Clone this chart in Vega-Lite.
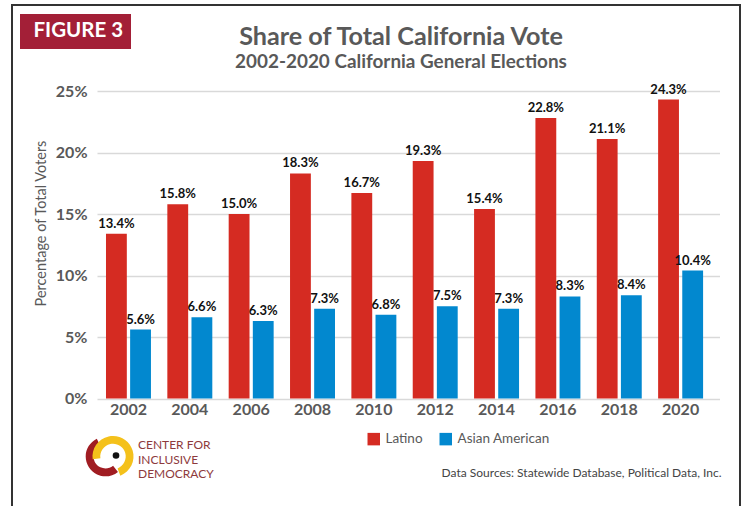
{
  "$schema": "https://vega.github.io/schema/vega-lite/v6.json",
  "width": 728,
  "height": 510,
  "autosize": {"type": "none"},
  "padding": {"left": 12, "top": 5, "right": 6, "bottom": 0},
  "background": "white",
  "config": {
    "font": "Lato",
    "view": {"stroke": "#333333", "strokeWidth": 2},
    "axis": {"labelFont": "Lato", "titleFont": "Lato"},
    "legend": {"labelFont": "Lato", "titleFont": "Lato"}
  },
  "title": {
    "text": "Share of Total California Vote",
    "subtitle": "2002-2020 California General Elections",
    "anchor": "middle",
    "frame": "group",
    "offset": -67,
    "dx": 25,
    "font": "Lato",
    "fontSize": 25.2,
    "fontWeight": "bold",
    "color": "#595959",
    "subtitleFont": "Lato",
    "subtitleFontSize": 18.9,
    "subtitleFontWeight": "bold",
    "subtitleColor": "#595959",
    "subtitlePadding": 3
  },
  "data": {
    "values": [
      {"year": "2002", "group": "Latino", "share": 0.134},
      {"year": "2002", "group": "Asian American", "share": 0.056},
      {"year": "2004", "group": "Latino", "share": 0.158},
      {"year": "2004", "group": "Asian American", "share": 0.066},
      {"year": "2006", "group": "Latino", "share": 0.150},
      {"year": "2006", "group": "Asian American", "share": 0.063},
      {"year": "2008", "group": "Latino", "share": 0.183},
      {"year": "2008", "group": "Asian American", "share": 0.073},
      {"year": "2010", "group": "Latino", "share": 0.167},
      {"year": "2010", "group": "Asian American", "share": 0.068},
      {"year": "2012", "group": "Latino", "share": 0.193},
      {"year": "2012", "group": "Asian American", "share": 0.075},
      {"year": "2014", "group": "Latino", "share": 0.154},
      {"year": "2014", "group": "Asian American", "share": 0.073},
      {"year": "2016", "group": "Latino", "share": 0.228},
      {"year": "2016", "group": "Asian American", "share": 0.083},
      {"year": "2018", "group": "Latino", "share": 0.211},
      {"year": "2018", "group": "Asian American", "share": 0.084},
      {"year": "2020", "group": "Latino", "share": 0.243},
      {"year": "2020", "group": "Asian American", "share": 0.104}
    ]
  },
  "layer": [
    {
      "mark": {"type": "bar"},
      "encoding": {
        "x": {
          "field": "year", "type": "nominal",
          "scale": {"type": "band", "range": [85, 707.5], "paddingInner": 0.267, "paddingOuter": 0.207, "align": 0.354},
          "axis": {
            "orient": "bottom", "offset": -116.5, "labelAngle": 0, "labelFontSize": 16, "labelFontWeight": "bold",
            "labelColor": "#595959", "labelPadding": 3, "ticks": false, "domain": false, "grid": false,
            "title": "Data Sources: Statewide Database, Political Data, Inc.",
            "titleX": 709, "titleY": 73.5, "titleAlign": "right", "titleBaseline": "middle",
            "titleFontWeight": "normal", "titleFontSize": 12, "titleColor": "#444444"
          }
        },
        "xOffset": {"field": "group", "type": "nominal", "sort": ["Latino", "Asian American"], "scale": {"paddingInner": 0.137, "paddingOuter": 0}},
        "y": {
          "field": "share", "type": "quantitative",
          "scale": {"domain": [0, 0.25], "range": [393.5, 86], "nice": false},
          "axis": {
            "orient": "left", "offset": -85, "values": [0, 0.05, 0.1, 0.15, 0.2, 0.25], "format": ".0%",
            "labelFontSize": 16, "labelFontWeight": "bold", "labelColor": "#595959", "labelPadding": 10,
            "ticks": false, "domain": false, "grid": true, "gridColor": "#D9D9D9", "gridWidth": 1.5,
            "title": "Percentage of Total Voters", "titleX": -56, "titleY": 218, "titleAngle": 270,
            "titleAlign": "center", "titleBaseline": "middle", "titleFontWeight": "normal",
            "titleFontSize": 14.5, "titleColor": "#595959"
          }
        },
        "color": {
          "field": "group", "type": "nominal", "sort": ["Latino", "Asian American"],
          "scale": {"range": ["#D52B22", "#0288CF"]},
          "legend": {
            "title": null, "orient": "none", "direction": "horizontal", "legendX": 355, "legendY": 427,
            "symbolType": "square", "symbolSize": 156, "symbolStrokeWidth": 0, "labelFontSize": 13.5,
            "labelColor": "#595959", "labelOffset": 5, "columnPadding": 16, "padding": 0
          }
        }
      }
    },
    {
      "mark": {"type": "text", "baseline": "bottom", "dy": -3, "fontSize": 13, "fontWeight": "bold", "color": "#111111", "font": "Lato"},
      "encoding": {
        "x": {"field": "year", "type": "nominal"},
        "xOffset": {"field": "group", "type": "nominal", "sort": ["Latino", "Asian American"]},
        "y": {"field": "share", "type": "quantitative"},
        "text": {"field": "share", "type": "quantitative", "format": ".1%"}
      }
    },
    {
      "data": {"values": [{"badge": "FIGURE 3"}]},
      "mark": {"type": "point", "opacity": 0},
      "encoding": {
        "color": {
          "field": "badge", "type": "nominal", "scale": {"range": ["#A31F37"]},
          "legend": {
            "title": null, "orient": "none", "legendX": 8, "legendY": 9, "fillColor": "#A31F37",
            "padding": 7, "symbolSize": 16, "symbolOpacity": 0, "symbolStrokeWidth": 0, "labelOffset": -14,
            "labelColor": "#FFFFFF", "labelFontSize": 20.5, "labelFontWeight": "bold", "cornerRadius": 0
          }
        }
      }
    },
    {
      "data": {"values": [{"line": "CENTER FOR"}, {"line": "INCLUSIVE"}, {"line": "DEMOCRACY"}]},
      "mark": {"type": "point", "opacity": 0},
      "encoding": {
        "color": {
          "field": "line", "type": "nominal", "sort": ["CENTER FOR", "INCLUSIVE", "DEMOCRACY"],
          "scale": {"range": ["#8E3A3C", "#8E3A3C", "#8E3A3C"]},
          "legend": {
            "title": null, "orient": "none", "direction": "vertical", "legendX": 114, "legendY": 434,
            "padding": 0, "symbolSize": 0, "symbolOpacity": 0, "symbolStrokeWidth": 0, "labelOffset": 0,
            "labelFontSize": 12, "labelColor": "#8E3A3C", "rowPadding": 2.5
          }
        }
      }
    },
    {
      "data": {"values": [{"part": "red"}]},
      "mark": {"type": "point", "opacity": 0, "filled": true},
      "encoding": {
        "color": {
          "field": "part", "type": "nominal", "scale": {"range": ["#A01C22"]},
          "legend": {
            "title": null, "orient": "none", "legendX": 79, "legendY": 437, "padding": 0, "labelExpr": "''",
            "symbolType": "M0.881,1.088A1.4,1.4,0,1,1,-0.614,-1.258L-0.373,-0.764A0.85,0.85,0,1,0,0.535,0.661Z",
            "symbolSize": 800, "symbolStrokeWidth": 0
          }
        }
      }
    },
    {
      "data": {"values": [{"part": "yellow"}]},
      "mark": {"type": "point", "opacity": 0, "filled": true},
      "encoding": {
        "color": {
          "field": "part", "type": "nominal", "scale": {"range": ["#F4C11B"]},
          "legend": {
            "title": null, "orient": "none", "legendX": 86.5, "legendY": 437, "padding": 0, "labelExpr": "''",
            "symbolType": "M-1.436,0.202A1.45,1.45,0,1,1,0.520,1.354L0.323,0.840A0.9,0.9,0,1,0,-0.891,0.125Z",
            "symbolSize": 800, "symbolStrokeWidth": 0
          }
        }
      }
    },
    {
      "data": {"values": [{"part": "dot"}]},
      "mark": {"type": "point", "opacity": 0, "filled": true},
      "encoding": {
        "color": {
          "field": "part", "type": "nominal", "scale": {"range": ["#111111"]},
          "legend": {
            "title": null, "orient": "none", "legendX": 99, "legendY": 445.5, "padding": 0, "labelExpr": "''",
            "symbolType": "circle", "symbolSize": 44, "symbolStrokeWidth": 0
          }
        }
      }
    }
  ],
  "resolve": {"scale": {"color": "independent"}}
}
